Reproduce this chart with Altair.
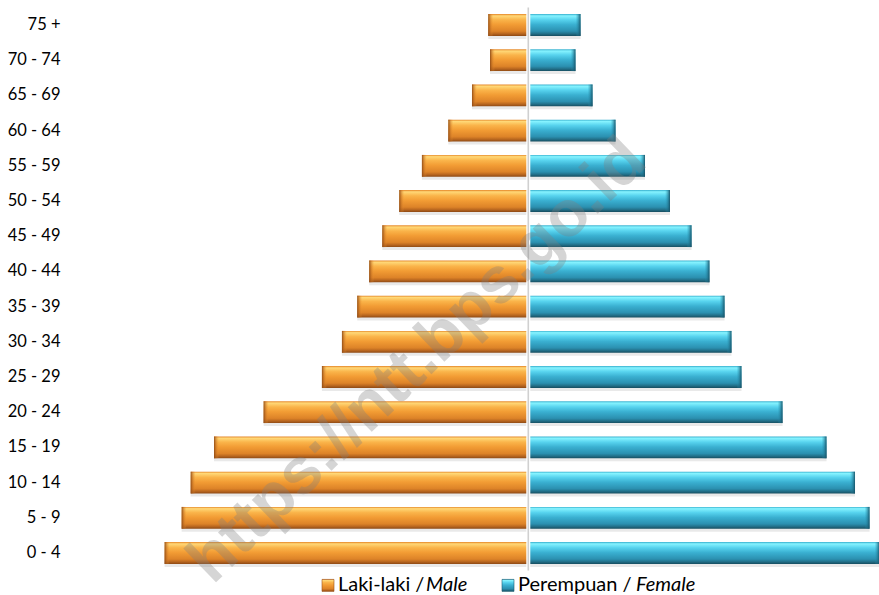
import altair as alt
import pandas as pd

# Population by age group (thousands)
age_groups = ["0 - 4", "5 - 9", "10 - 14", "15 - 19", "20 - 24", "25 - 29",
              "30 - 34", "35 - 39", "40 - 44", "45 - 49", "50 - 54", "55 - 59",
              "60 - 64", "65 - 69", "70 - 74", "75 +"]
male = [330.6, 315.1, 306.9, 285.7, 240.6, 187.6, 169.4, 155.5, 144.6, 132.7,
        117.3, 96.7, 72.7, 51.2, 34.8, 36.4]
female = [319.3, 310.2, 297.0, 271.1, 231.1, 193.8, 184.7, 178.4, 164.7, 148.4,
          128.8, 106.1, 79.3, 58.4, 42.9, 47.5]

legend_text = ["Laki-laki / ", "Perempuan / "]
legend_italic = ["Male", "Female"]
watermark = "https://ntt.bps.go.id"

rows = []
for a, m, f in zip(age_groups, male, female):
    rows.append({"age": a, "sex": "male", "lo": -m, "hi": 0.0})
    rows.append({"age": a, "sex": "female", "lo": 0.0, "hi": f})
df = pd.DataFrame(rows)

W, H = 809, 563.2
FONT = "Lato"

x_scale = alt.Scale(domain=[-416.6, 318.8], nice=False, zero=False)
y_scale = alt.Scale(paddingInner=0.38, paddingOuter=0.19)
order = list(reversed(age_groups))


def grad(stops, horizontal=False):
    return alt.LinearGradient(
        gradient="linear", x1=0, y1=0,
        x2=1 if horizontal else 0, y2=0 if horizontal else 1,
        stops=[alt.GradientStop(offset=o, color=c) for o, c in stops],
    )


orange = grad([(0, "#E58628"), (0.08, "#FFD877"), (0.26, "#FAB44A"),
               (0.48, "#F29C34"), (0.78, "#DD8328"), (0.9, "#B8661F"), (1, "#8E4A15")])
blue = grad([(0, "#38B0CE"), (0.08, "#86F3FF"), (0.26, "#57D3EE"),
             (0.48, "#3AB0D1"), (0.78, "#2B90B0"), (0.9, "#226F88"), (1, "#174E60")])
male_cap = grad([(0, "rgba(140,72,20,0.95)"), (0.35, "rgba(180,100,30,0.6)"),
                 (1, "rgba(240,150,50,0)")], horizontal=True)
female_cap = grad([(0, "rgba(40,150,180,0)"), (0.65, "rgba(30,105,130,0.6)"),
                   (1, "rgba(20,80,100,0.95)")], horizontal=True)

y_enc = alt.Y("age:N", sort=order, scale=y_scale,
              axis=alt.Axis(title=None, ticks=False, domain=False, labelPadding=10,
                            labelFont=FONT, labelFontSize=16.5, labelColor="#000000"))

base = alt.Chart(df).encode(
    y=y_enc,
    x=alt.X("lo:Q", scale=x_scale, axis=None),
    x2="hi:Q",
)

shadow = base.mark_bar(color="#555555", opacity=0.13, yOffset=3)
male_bars = base.mark_bar(color=orange).transform_filter(alt.datum.sex == "male")
female_bars = base.mark_bar(color=blue).transform_filter(alt.datum.sex == "female")

# darker bevelled outer ends of the bars
male_ends = alt.Chart(df).transform_filter(alt.datum.sex == "male").mark_bar(
    color=male_cap, x2Offset=5).encode(
    y=y_enc, x=alt.X("lo:Q", scale=x_scale, axis=None), x2="lo:Q")
female_ends = alt.Chart(df).transform_filter(alt.datum.sex == "female").mark_bar(
    color=female_cap, xOffset=-5).encode(
    y=y_enc, x=alt.X("hi:Q", scale=x_scale, axis=None), x2="hi:Q")

center = pd.DataFrame({"v": [0.0]})
gap = alt.Chart(center).mark_rule(color="#FFFFFF", strokeWidth=4).encode(
    x=alt.X("v:Q", scale=x_scale, axis=None))
axis_line = alt.Chart(center).mark_rule(color="#D0D0D0", strokeWidth=1.6).encode(
    x=alt.X("v:Q", scale=x_scale, axis=None))

wm = alt.Chart(pd.DataFrame({"t": [watermark]})).mark_text(
    font="Liberation Sans", fontWeight="bold", fontSize=65, angle=316,
    color="#7F7F7F", opacity=0.32, align="center", baseline="middle",
).encode(x=alt.value(347), y=alt.value(353), text="t:N")

# legend built from marks so the English part can be italic
leg = pd.DataFrame({"a": legend_text, "b": legend_italic})
sw_male = alt.Chart(leg.iloc[[0]]).mark_rect(color=orange, stroke="#9A5218", strokeWidth=0.6).encode(
    x=alt.value(252), x2=alt.value(264), y=alt.value(572), y2=alt.value(584))
sw_female = alt.Chart(leg.iloc[[1]]).mark_rect(color=blue, stroke="#1A5D72", strokeWidth=0.6).encode(
    x=alt.value(432), x2=alt.value(444), y=alt.value(572), y2=alt.value(584))
txt_kw = dict(font=FONT, fontSize=20, color="#000000", align="left", baseline="alphabetic")
t_male = alt.Chart(leg.iloc[[0]]).mark_text(**txt_kw).encode(
    x=alt.value(268), y=alt.value(583.5), text="a:N")
t_male_i = alt.Chart(leg.iloc[[0]]).mark_text(fontStyle="italic", **txt_kw).encode(
    x=alt.value(356), y=alt.value(583.5), text="b:N")
t_female = alt.Chart(leg.iloc[[1]]).mark_text(**txt_kw).encode(
    x=alt.value(448), y=alt.value(583.5), text="a:N")
t_female_i = alt.Chart(leg.iloc[[1]]).mark_text(fontStyle="italic", **txt_kw).encode(
    x=alt.value(566), y=alt.value(583.5), text="b:N")

chart = alt.layer(
    shadow, male_bars, female_bars, male_ends, female_ends, gap, axis_line, wm,
    sw_male, sw_female, t_male, t_male_i, t_female, t_female_i,
).properties(
    width=W, height=H,
    autosize=alt.AutoSizeParams(type="none"),
    padding={"left": 70, "top": 7.4, "right": 0, "bottom": 24.4},
    background="#FFFFFF",
).configure_view(stroke=None)

chart.save("out.html", embed_options={"renderer": "svg", "actions": False})
